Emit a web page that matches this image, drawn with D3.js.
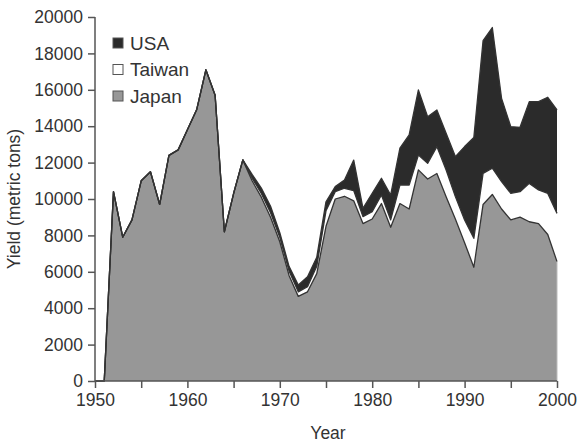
<!DOCTYPE html>
<html>
<head>
<meta charset="utf-8">
<script src="https://cdn.jsdelivr.net/npm/d3@7"></script>
<style>
  body { margin: 0; background: #fff; }
  text { font-family: "Liberation Sans", Arial, sans-serif; fill: #333; }
</style>
</head>
<body>
<div class="chart"></div>
<script>
// yields per year, 1950..2000
var years = d3.range(1950, 2001);

var japan = [0, 0, 10400, 7900, 8850, 11000, 11500, 9700, 12400, 12700,
  13800, 14900, 17100, 15700, 8200, 10300, 12150, 11000, 10100, 9000,
  7650, 5800, 4650, 4900, 5900, 8500, 10000, 10150, 9900, 8650,
  8900, 9750, 8450, 9750, 9450, 11600, 11100, 11400, 10130, 8900,
  7600, 6250, 9700, 10250, 9450, 8850, 9000, 8750, 8650, 8050,
  6560];

var taiwan = [0, 0, 0, 0, 0, 0, 0, 0, 0, 0,
  0, 0, 0, 0, 0, 0, 0, 150, 200, 250,
  250, 250, 250, 280, 400, 850, 400, 440, 560, 380,
  400, 470, 400, 1020, 1320, 820, 860, 1480, 1460, 1230,
  1250, 1590, 1710, 1440, 1500, 1460, 1400, 2110, 1850, 2260,
  2650];

var usa = [0, 0, 0, 0, 0, 0, 0, 0, 0, 0,
  0, 0, 0, 0, 0, 0, 0, 200, 300, 350,
  250, 250, 375, 550, 500, 500, 280, 455, 1680, 460,
  1010, 920, 1370, 2020, 2750, 3570, 2560, 2010, 2020, 2200,
  4030, 5540, 7290, 7730, 4580, 3660, 3540, 4490, 4850, 5280,
  5680];

var seriesNames = ["Japan", "Taiwan", "USA"];
var seriesColors = { Japan: "#979797", Taiwan: "#ffffff", USA: "#2b2b2b" };
var legendOrder = ["USA", "Taiwan", "Japan"];
var yTicks = d3.range(0, 20001, 2000);
var xTicks = d3.range(1950, 2001, 5);
var xLabels = d3.range(1950, 2001, 10);

var width = 580, height = 442;
var plotLeft = 95, plotRight = 557, plotTop = 17, plotBottom = 381;

var rows = years.map(function(yr, i) {
  return { year: yr, Japan: japan[i], Taiwan: taiwan[i], USA: usa[i] };
});

var svg = d3.select(".chart").append("svg")
  .attr("width", width)
  .attr("height", height);

var x = d3.scaleLinear().domain([1950, 2000]).range([plotLeft, plotRight]);
var y = d3.scaleLinear().domain([0, 20000]).range([plotBottom, plotTop]);

var stacked = d3.stack().keys(seriesNames)(rows);

var area = d3.area()
  .x(function(d) { return x(d.data.year); })
  .y0(function(d) { return y(d[0]); })
  .y1(function(d) { return y(d[1]); });

var edge = d3.line()
  .x(function(d) { return x(d.data.year); })
  .y(function(d) { return y(d[1]); });

svg.selectAll(".layer")
  .data(stacked)
  .enter().append("path")
  .attr("class", "layer")
  .attr("d", area)
  .attr("fill", function(d) { return seriesColors[d.key]; });

svg.selectAll(".edge")
  .data(stacked)
  .enter().append("path")
  .attr("class", "edge")
  .attr("d", edge)
  .attr("fill", "none")
  .attr("stroke", "#333")
  .attr("stroke-width", 1.3)
  .attr("stroke-linejoin", "round");

// right edge of the stack
svg.append("line")
  .attr("x1", x(2000)).attr("x2", x(2000))
  .attr("y1", y(0)).attr("y2", y(japan[japan.length - 1]))
  .attr("stroke", "#bbb");

// axes
var yAxis = svg.append("g")
  .attr("transform", "translate(" + plotLeft + ",0)")
  .call(d3.axisLeft(y).tickValues(yTicks).tickSize(7).tickPadding(5).tickFormat(d3.format("d")));

var xAxis = svg.append("g")
  .attr("transform", "translate(0," + plotBottom + ")")
  .call(d3.axisBottom(x).tickValues(xTicks).tickSize(7).tickPadding(6)
    .tickFormat(function(d) { return xLabels.indexOf(d) >= 0 ? d : ""; }));

[yAxis, xAxis].forEach(function(g) {
  g.select(".domain").attr("stroke", "#555").attr("stroke-width", 1.5);
  g.selectAll(".tick line").attr("stroke", "#555").attr("stroke-width", 1.5);
  g.selectAll(".tick text").attr("font-size", 17.5).attr("fill", "#333")
    .attr("font-family", "Liberation Sans, Arial, sans-serif");
});
yAxis.select(".domain").attr("d", "M0," + plotBottom + "V" + plotTop);
xAxis.select(".domain").attr("d", "M" + plotLeft + ",0H" + plotRight);

svg.append("text")
  .attr("x", (plotLeft + plotRight) / 2 + 2)
  .attr("y", 439)
  .attr("text-anchor", "middle")
  .attr("font-size", 17.5)
  .text("Year");

svg.append("text")
  .attr("transform", "translate(20," + (plotTop + plotBottom) / 2 + ") rotate(-90)")
  .attr("text-anchor", "middle")
  .attr("font-size", 17.5)
  .text("Yield (metric tons)");

// legend
var legend = svg.selectAll(".legend")
  .data(legendOrder)
  .enter().append("g")
  .attr("class", "legend")
  .attr("transform", function(d, i) { return "translate(113," + (38 + i * 26.5) + ")"; });

legend.append("rect")
  .attr("width", 10)
  .attr("height", 10)
  .attr("fill", function(d) { return seriesColors[d]; })
  .attr("stroke", "#555")
  .attr("stroke-width", 1);

legend.append("text")
  .attr("x", 17)
  .attr("y", 11.5)
  .attr("font-size", 19)
  .text(function(d) { return d; });
</script>
</body>
</html>
